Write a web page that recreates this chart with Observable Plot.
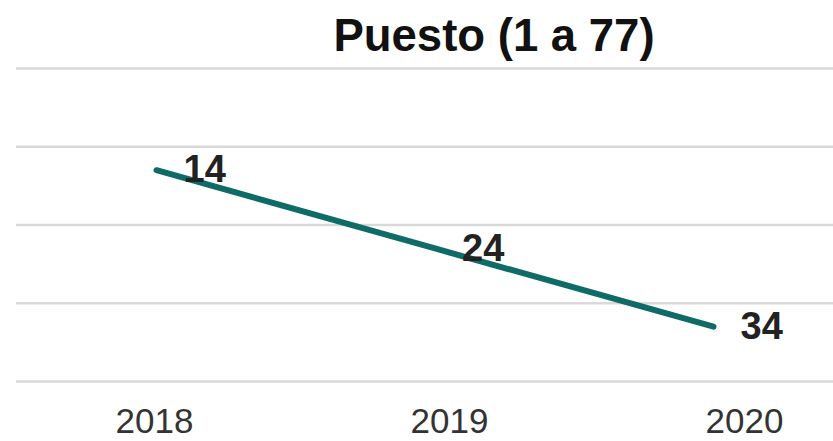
<!DOCTYPE html>
<html>
<head>
<meta charset="utf-8">
<script src="https://cdn.jsdelivr.net/npm/d3@7"></script>
<script src="https://cdn.jsdelivr.net/npm/@observablehq/plot@0.6"></script>
<style>
  body { margin: 0; background: #fff; font-family: "Liberation Sans", Arial, sans-serif; }
  #wrap { position: relative; width: 833px; height: 441px; overflow: hidden; }
  #title { box-sizing: border-box; width: 833px; height: 60px; padding-top: 10px; padding-left: 155px;
           text-align: center; font-size: 45.5px; font-weight: bold; color: #111; line-height: normal; white-space: nowrap; }
  #axis { position: absolute; left: 0; top: 60px; pointer-events: none; }
  svg { display: block; }
</style>
</head>
<body>
<div id="wrap">
  <div id="title">Puesto (1 a 77)</div>
  <div id="main"></div>
  <div id="axis"></div>
</div>
<script>
const years = [2018, 2019, 2020];
const ranks = [14, 24, 34];
const yearLabels = ["2018", "2019", "2020"];
const yTicks = [1, 11, 21, 31, 41];

const data = years.map((y, i) => ({year: y, rank: ranks[i]}));

const main = Plot.plot({
  width: 833,
  height: 381,
  marginTop: 8,
  marginBottom: 60,
  marginLeft: 16,
  marginRight: 0,
  style: {fontFamily: '"Liberation Sans", Arial, sans-serif', background: "transparent"},
  x: {type: "linear", domain: [2018, 2020], insetLeft: 140, insetRight: 120, axis: null},
  y: {domain: [1, 41], reverse: true, axis: null},
  marks: [
    Plot.gridY(yTicks, {stroke: "#d9d9d9", strokeOpacity: 1, strokeWidth: 2.5}),
    Plot.line(data, {x: "year", y: "rank", stroke: "#0e6b66", strokeWidth: 6, strokeLinecap: "round", strokeLinejoin: "round"}),
    Plot.text(data, {x: "year", y: "rank", text: d => String(d.rank), dx: 27, textAnchor: "start",
                     fontSize: 38, fontWeight: "bold", fill: "#222"})
  ]
});
document.getElementById("main").appendChild(main);

const axis = Plot.plot({
  width: 833,
  height: 381,
  marginTop: 8,
  marginBottom: 60,
  marginLeft: 153.5,
  marginRight: 88,
  style: {fontFamily: '"Liberation Sans", Arial, sans-serif', background: "transparent", color: "#333", overflow: "visible"},
  x: {type: "point", domain: yearLabels, padding: 0},
  marks: [
    Plot.axisX({tickSize: 0, tickPadding: 27, fontSize: 35, label: null})
  ]
});
document.getElementById("axis").appendChild(axis);
</script>
</body>
</html>
